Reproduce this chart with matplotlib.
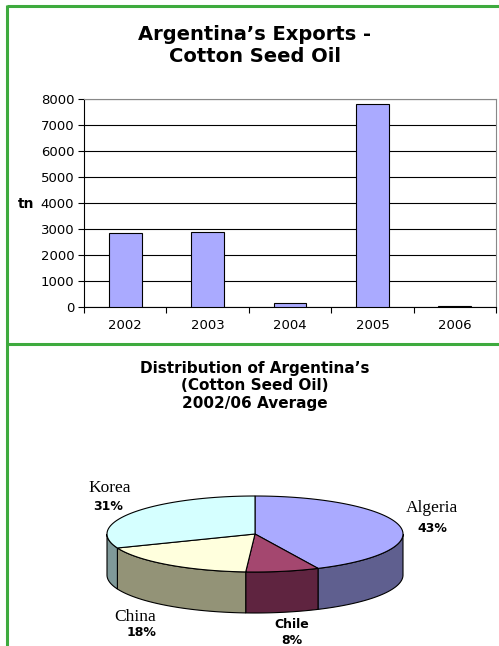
import numpy as np
import matplotlib
matplotlib.use("Agg")
import matplotlib.pyplot as plt
from matplotlib.patches import Polygon

# Exports data (tn)
years = ["2002", "2003", "2004", "2005", "2006"]
exports = [2830, 2870, 165, 7820, 50]
y_ticks = [0, 1000, 2000, 3000, 4000, 5000, 6000, 7000, 8000]

# Destination shares (%)
countries = ["Algeria", "Chile", "China", "Korea"]
shares = [43, 8, 18, 31]
top_colors = ["#AAAAFF", "#A4476F", "#FFFFDD", "#D5FFFF"]
side_colors = ["#5F5F8F", "#5F2440", "#939377", "#7F9999"]

W, H = 499, 646
fig = plt.figure(figsize=(W / 100, H / 100), dpi=100)
fig.patch.set_facecolor("white")

# ---- bar chart ----
x0, x1, y0, y1 = 84, 496, 99, 307
ax = fig.add_axes([x0 / W, 1 - y1 / H, (x1 - x0) / W, (y1 - y0) / H])
pos = np.arange(len(years))
ax.bar(pos, exports, width=0.4, color="#AAAAFF", edgecolor="black", linewidth=0.8, zorder=3)
ax.set_xlim(-0.5, len(years) - 0.5)
ax.set_ylim(0, 8000)
ax.set_yticks(y_ticks)
ax.set_yticklabels([str(v) for v in y_ticks], fontsize=9.5)
ax.yaxis.grid(True, color="black", linewidth=0.8, zorder=0)
ax.set_axisbelow(True)
ax.set_xticks(np.arange(-0.5, len(years)), minor=False)
ax.set_xticklabels([])
ax.set_xticks(pos, minor=True)
ax.set_xticklabels(years, minor=True, fontsize=9.5)
ax.tick_params(axis="x", which="minor", length=0, pad=9)
ax.tick_params(axis="x", which="major", length=4, direction="out")
ax.tick_params(axis="y", length=4, direction="out", pad=3)
for s in ["top", "right"]:
    ax.spines[s].set_color("#888888")
    ax.spines[s].set_linewidth(0.8)
for s in ["left", "bottom"]:
    ax.spines[s].set_color("black")
    ax.spines[s].set_linewidth(0.8)

# ---- overlay in pixel coordinates ----
ov = fig.add_axes([0, 0, 1, 1])
ov.set_xlim(0, W)
ov.set_ylim(H, 0)
ov.axis("off")
ov.patch.set_visible(False)

green = "#3EAA3E"
ov.plot([7, W], [6, 6], color=green, lw=2.2, solid_capstyle="butt")
ov.plot([7.5, 7.5], [5, H], color=green, lw=2.2, solid_capstyle="butt")
ov.plot([7, W], [344, 344], color=green, lw=2.2, solid_capstyle="butt")

ov.text(255, 46, "Argentina\u2019s Exports -\nCotton Seed Oil", ha="center", va="center",
        fontsize=14, fontweight="bold", linespacing=1.2)
ov.text(26, 204, "tn", ha="center", va="center", fontsize=10, fontweight="bold")
ov.text(255, 386, "Distribution of Argentina\u2019s\n(Cotton Seed Oil)\n2002/06 Average",
        ha="center", va="center", fontsize=11, fontweight="bold", linespacing=1.2)

# ---- 3D pie ----
cx, cy, rx, ry, depth = 255, 534, 148, 38, 41
fracs = np.array(shares, dtype=float) / sum(shares)
starts = 90 - 360 * np.concatenate([[0], np.cumsum(fracs)[:-1]])
ends = starts - 360 * fracs


def pt(t):
    r = np.radians(t)
    return cx + rx * np.cos(r), cy - ry * np.sin(r)


# sides (front half only, angles between -180 and 0)
for a, b, c in zip(starts, ends, side_colors):
    lo, hi = max(b, -180), min(a, 0)
    if lo >= hi:
        continue
    t = np.linspace(hi, lo, 60)
    xs, ys = pt(t)
    poly = np.vstack([np.column_stack([xs, ys]), np.column_stack([xs[::-1], ys[::-1] + depth])])
    ov.add_patch(Polygon(poly, closed=True, facecolor=c, edgecolor="black", lw=0.8, zorder=2))

# top faces
for a, b, c in zip(starts, ends, top_colors):
    t = np.linspace(a, b, 120)
    xs, ys = pt(t)
    poly = np.vstack([[cx, cy], np.column_stack([xs, ys])])
    ov.add_patch(Polygon(poly, closed=True, facecolor=c, edgecolor="black", lw=0.8, zorder=3))

serif = "Liberation Serif"
ov.text(110, 488, "Korea", ha="center", va="center", fontsize=12.5, family=serif)
ov.text(108, 506, "31%", ha="center", va="center", fontsize=9, fontweight="bold")
ov.text(432, 508, "Algeria", ha="center", va="center", fontsize=12.5, family=serif)
ov.text(432, 529, "43%", ha="center", va="center", fontsize=9, fontweight="bold")
ov.text(135, 617, "China", ha="center", va="center", fontsize=12.5, family=serif)
ov.text(142, 633, "18%", ha="center", va="center", fontsize=9, fontweight="bold")
ov.text(292, 624, "Chile", ha="center", va="center", fontsize=9, fontweight="bold")
ov.text(292, 640, "8%", ha="center", va="center", fontsize=9, fontweight="bold")

fig.savefig("out.png", dpi=100)
